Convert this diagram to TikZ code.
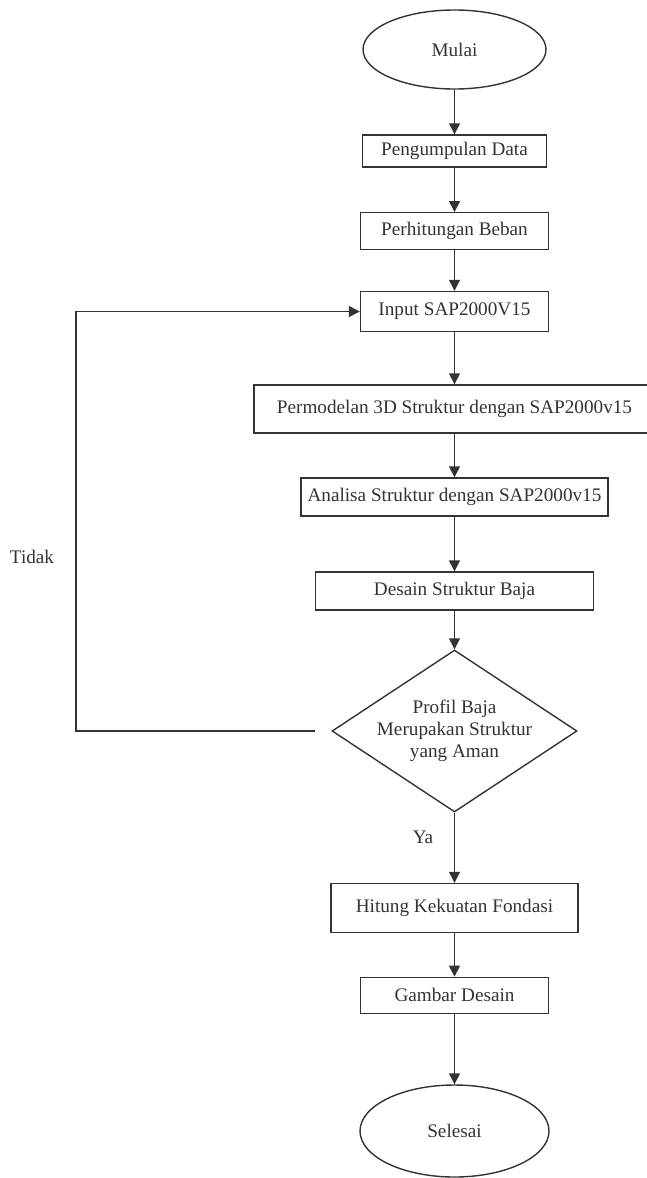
\documentclass[tikz,border=0pt]{standalone}
\usepackage{fontspec}
\setmainfont{Liberation Serif}
\usetikzlibrary{positioning, shapes.geometric, arrows.meta}
\definecolor{garis}{gray}{0.2}

\begin{document}
\begin{tikzpicture}[x=1pt, y=-1pt, line width=1.4pt, color=garis,
            font=\fontsize{19.2}{22}\selectfont,
            >={Triangle[length=11pt, width=11pt]},
            proses/.style ={rectangle, draw, inner sep=0pt},
            terminal/.style ={ellipse, draw, inner sep=0pt},
            keputusan/.style ={diamond, draw, aspect=1.51, inner sep=-4pt, align=center,
            minimum width=245pt, minimum height=162pt}]

        \useasboundingbox (0,0) rectangle (646,1178);

        %\node [gaya node] (nama node) at (posisi x, posisi y) {};

        \node[terminal, minimum width=183pt, minimum height=79pt] (mulai) at (454.5, 49.5) {Mulai};
        \node[proses, minimum width=184pt, minimum height=32pt] (data) at (454.5, 151) {Pengumpulan Data};
        \node[proses, minimum width=188pt, minimum height=36.5pt] (beban) at (454.5, 231) {Perhitungan Beban};
        \node[proses, minimum width=188pt, minimum height=40pt] (input) at (454.5, 311.5) {Input SAP2000V15};
        \node[proses, minimum width=401pt, minimum height=48pt] (model) at (454.5, 409) {Permodelan 3D Struktur dengan SAP2000v15};
        \node[proses, minimum width=307pt, minimum height=38pt] (analisa) at (454.5, 497) {Analisa Struktur dengan SAP2000v15};
        \node[proses, minimum width=277.5pt, minimum height=38pt] (desain) at (454.5, 591) {Desain Struktur Baja};
        \node[keputusan] (cek) at (454.5, 731) {Profil Baja\\Merupakan Struktur\\yang Aman};
        \node[proses, minimum width=247pt, minimum height=49pt] (fondasi) at (454.5, 908) {Hitung Kekuatan Fondasi};
        \node[proses, minimum width=188pt, minimum height=36pt] (gambar) at (454.5, 995.3) {Gambar Desain};
        \node[terminal, minimum width=189pt, minimum height=92pt] (selesai) at (454.5, 1131) {Selesai};

        \node (tidak) at (32, 557) {Tidak};
        \node (ya) at (423, 837) {Ya};

        \coordinate (balik) at (76, 731);

        \path[->] (mulai) edge (data);
        \path[->] (data) edge (beban);
        \path[->] (beban) edge (input);
        \path[->] (input) edge (model);
        \path[->] (model) edge (analisa);
        \path[->] (analisa) edge (desain);
        \path[->] (desain) edge (cek);
        \path[->] (cek) edge (fondasi);
        \path[->] (fondasi) edge (gambar);
        \path[->] (gambar) edge (selesai);

        %jalur kembali kalau tidak aman
        \draw[->, shorten <=16pt] (cek.west) -- (balik) |- (input.west);
    \end{tikzpicture}
\end{document}
